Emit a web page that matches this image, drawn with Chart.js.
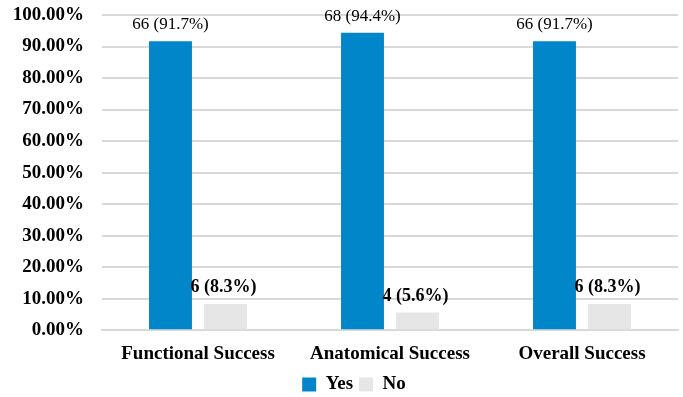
<!DOCTYPE html>
<html>
<head>
<meta charset="utf-8">
<script src="https://cdn.jsdelivr.net/npm/chart.js@4/dist/chart.umd.min.js"></script>
<style>
  html, body { margin: 0; padding: 0; background: #ffffff; }
  #wrap { width: 683px; height: 397px; }
</style>
</head>
<body>
<div id="wrap"><canvas id="c" width="683" height="397"></canvas></div>
<script>
const categories = ['Functional Success', 'Anatomical Success', 'Overall Success'];
const yesCounts = [66, 68, 66];
const yesPercent = [91.7, 94.4, 91.7];
const noCounts = [6, 4, 6];
const noPercent = [8.3, 5.6, 8.3];

const SERIF = '"Liberation Serif", "Times New Roman", serif';

// Writes "count (percent%)" above each bar
const valueLabels = {
  id: 'valueLabels',
  afterDatasetsDraw(chart) {
    const ctx = chart.ctx;
    chart.data.datasets.forEach((ds, di) => {
      const meta = chart.getDatasetMeta(di);
      meta.data.forEach((bar, i) => {
        ctx.save();
        ctx.fillStyle = '#000000';
        ctx.textAlign = 'center';
        ctx.textBaseline = 'alphabetic';
        ctx.font = ds.labelFont;
        ctx.fillText(ds.counts[i] + ' (' + ds.data[i] + '%)', bar.x + ds.labelShift, bar.y - ds.labelLift);
        ctx.restore();
      });
    });
  }
};

// Centres the legend under the plot area rather than the whole canvas
const legendUnderPlot = {
  id: 'legendUnderPlot',
  afterLayout(chart) {
    const lg = chart.legend;
    if (!lg) return;
    const shift = 15;
    lg.left += shift;
    lg.right += shift;
  }
};

new Chart(document.getElementById('c'), {
  type: 'bar',
  data: {
    labels: categories,
    datasets: [
      {
        label: 'Yes',
        data: yesPercent,
        counts: yesCounts,
        backgroundColor: '#0086C9',
        labelFont: '17px ' + SERIF,
        labelShift: 0,
        labelLift: 12
      },
      {
        label: 'No',
        data: noPercent,
        counts: noCounts,
        backgroundColor: '#E6E6E7',
        labelFont: 'bold 18px ' + SERIF,
        labelShift: -2,
        labelLift: 12
      }
    ]
  },
  options: {
    responsive: false,
    animation: false,
    layout: { padding: { left: 0, right: 5, top: 15, bottom: -7 } },
    datasets: {
      bar: { categoryPercentage: 0.573, barPercentage: 0.78 }
    },
    scales: {
      x: {
        afterFit: scale => { scale.height -= 8; },
        grid: { display: false, drawTicks: false },
        border: { display: true, color: '#D9D9D9', width: 2 },
        ticks: {
          color: '#000000',
          padding: 12,
          font: { family: SERIF, size: 19, weight: 'bold' }
        }
      },
      y: {
        min: 0,
        max: 100,
        afterFit: scale => { scale.width = 102; scale.paddingTop = 0; scale.paddingBottom = 0; },
        grid: { color: '#D9D9D9', lineWidth: 2, drawTicks: false },
        border: { display: false },
        ticks: {
          stepSize: 10,
          padding: 18,
          color: '#000000',
          font: { family: SERIF, size: 19, weight: 'bold' },
          callback: v => v.toFixed(2) + '%'
        }
      }
    },
    plugins: {
      legend: {
        position: 'bottom',
        labels: {
          color: '#000000',
          boxWidth: 14,
          boxHeight: 14,
          padding: 6,
          font: { family: SERIF, size: 19, weight: 'bold' }
        }
      },
      tooltip: { enabled: false }
    }
  },
  plugins: [valueLabels, legendUnderPlot]
});
</script>
</body>
</html>
